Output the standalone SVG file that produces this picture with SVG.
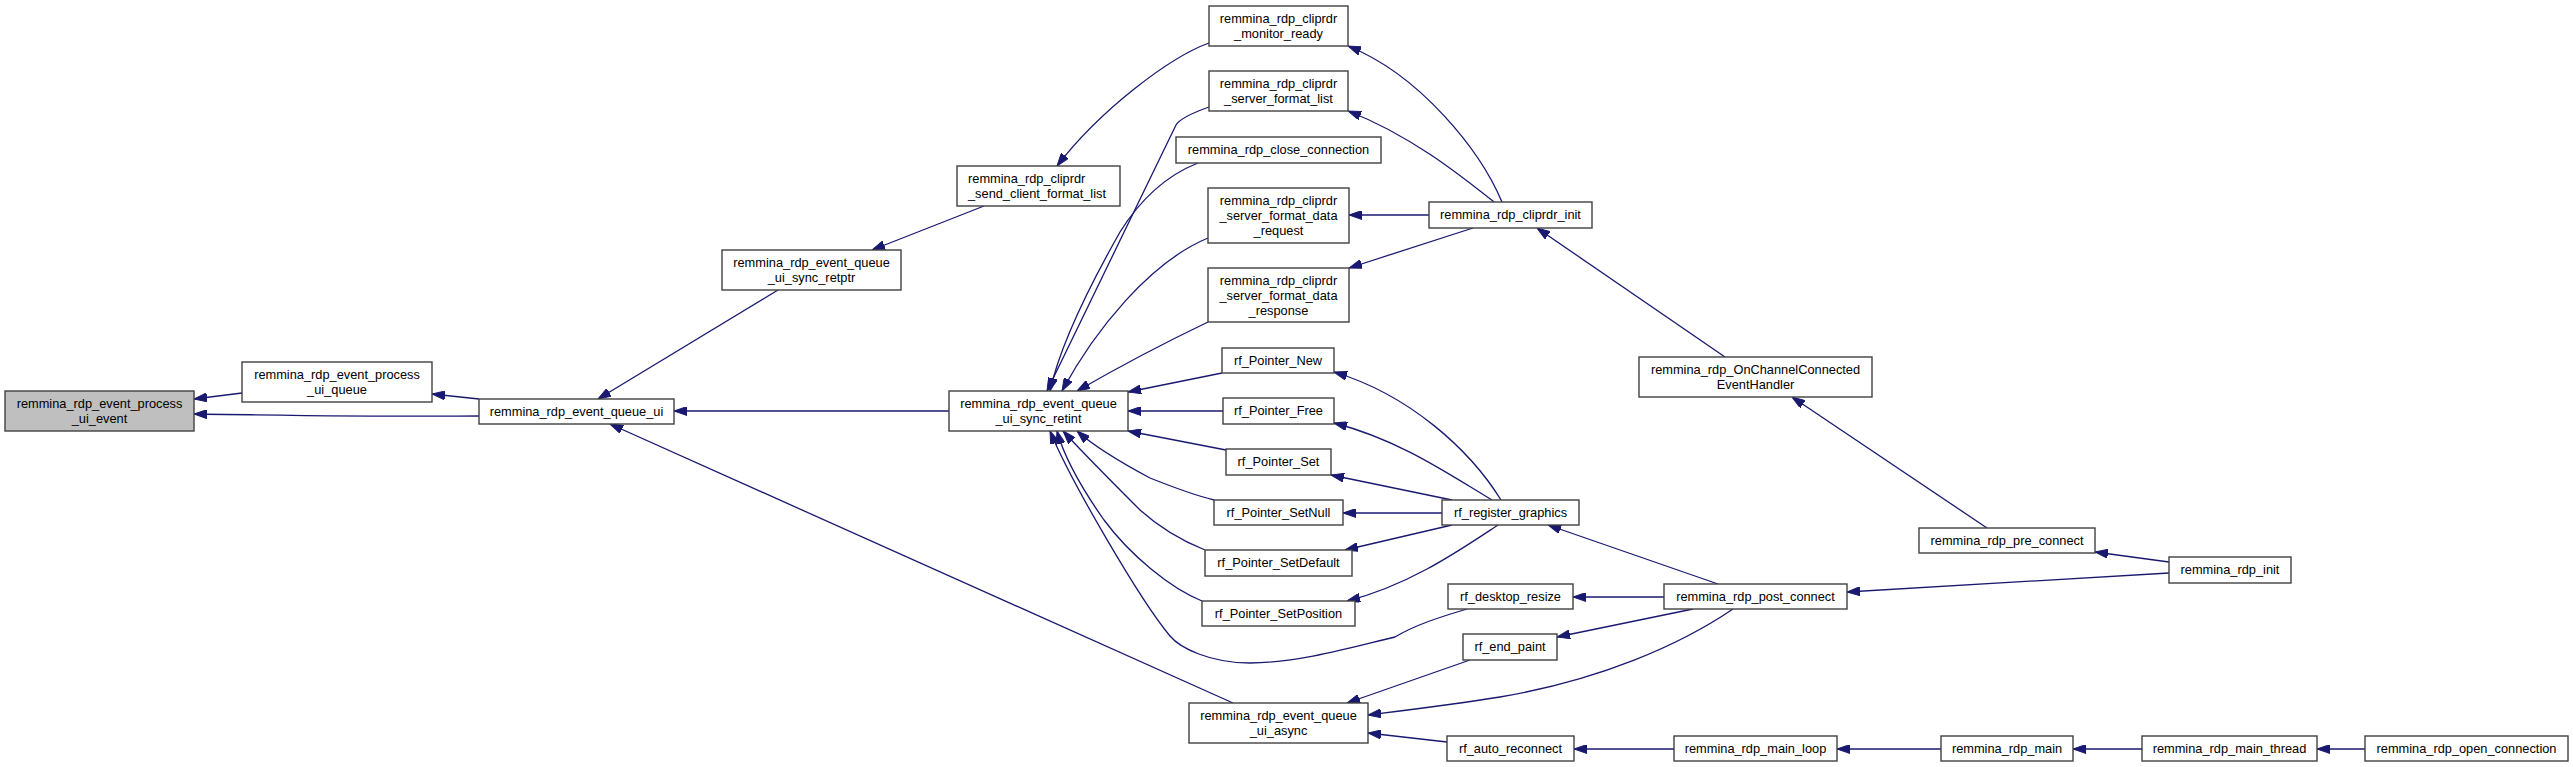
<svg xmlns="http://www.w3.org/2000/svg" width="2573" height="767" viewBox="0 0 2573 767">
<style>
.n rect{fill:#ffffff;stroke:#404040;stroke-width:1.4}
.n.root rect{fill:#bfbfbf}
.n text{font-family:"Liberation Sans",Arial,sans-serif;font-size:12.8px;fill:#000;text-anchor:middle}
.n text.l{text-anchor:start}
#edges path{fill:none;stroke:#191970;stroke-width:1.3;marker-end:url(#ah)}
</style>
<defs>
<marker id="ah" markerUnits="userSpaceOnUse" markerWidth="13" markerHeight="9" refX="13" refY="4.5" orient="auto">
<path d="M0,0 L13,4.5 L0,9 z" fill="#191970" stroke="#191970" stroke-width="1"/>
</marker>
</defs>
<rect x="0" y="0" width="2573" height="767" fill="#ffffff"/>
<g id="edges">
<path d="M242,393 L194,399"/>
<path d="M479,416 C380,417 280,415 194,414"/>
<path d="M479,399 L432,394"/>
<path d="M778,290 L598,399"/>
<path d="M949,411 L674,411"/>
<path d="M1233,703 L610,424"/>
<path d="M984,206 L872,250"/>
<path d="M1209,43 C1170,57 1100,110 1057,166"/>
<path d="M1209,107 C1195,112 1180,118 1176,125 L1047,391"/>
<path d="M1198,163 C1165,176 1140,200 1120,232 C1090,285 1060,345 1050,391"/>
<path d="M1208,238 C1150,262 1095,330 1062,391"/>
<path d="M1208,322 C1160,345 1110,372 1077,391"/>
<path d="M1222,373 L1128,392"/>
<path d="M1223,411 L1128,411"/>
<path d="M1226,450 L1128,431"/>
<path d="M1214,500 C1190,494 1170,486 1150,478 C1120,462 1095,447 1077,431"/>
<path d="M1205,550 C1180,540 1160,528 1140,510 C1110,480 1085,455 1063,431"/>
<path d="M1202,601 C1170,588 1130,555 1104,520 C1085,493 1065,460 1057,431"/>
<path d="M1467,609 C1440,617 1415,625 1395,637 C1360,645 1300,663 1250,663 C1210,663 1180,648 1170,636 C1140,600 1070,480 1050,431"/>
<path d="M1502,202 C1480,150 1420,75 1348,46"/>
<path d="M1494,202 C1460,175 1410,135 1348,111"/>
<path d="M1429,215 L1349,215"/>
<path d="M1473,228 L1349,268"/>
<path d="M1725,357 L1537,228"/>
<path d="M1987,528 L1792,397"/>
<path d="M2169,562 L2095,552"/>
<path d="M2169,573 L1847,592"/>
<path d="M1501,500 C1470,450 1410,395 1334,372"/>
<path d="M1492,500 C1450,475 1400,440 1334,423"/>
<path d="M1452,500 L1331,475"/>
<path d="M1442,513 L1343,513"/>
<path d="M1452,525 L1345,550"/>
<path d="M1498,525 C1460,550 1410,585 1347,601"/>
<path d="M1718,584 L1548,525"/>
<path d="M1664,597 L1573,597"/>
<path d="M1693,609 L1557,637"/>
<path d="M1733,609 C1680,645 1600,680 1500,697 C1450,705 1400,711 1368,715"/>
<path d="M1470,660 L1347,703"/>
<path d="M1447,742 L1368,733"/>
<path d="M1674,749 L1574,749"/>
<path d="M1941,749 L1837,749"/>
<path d="M2142,749 L2073,749"/>
<path d="M2365,749 L2317,749"/>
</g>
<g id="n1" class="n root"><rect x="5" y="391" width="189" height="40"/><text x="99.5" y="408">remmina_rdp_event_process</text><text x="99.5" y="423">_ui_event</text></g>
<g id="n2" class="n"><rect x="242" y="362" width="190" height="40"/><text x="337" y="379">remmina_rdp_event_process</text><text x="337" y="394">_ui_queue</text></g>
<g id="n3" class="n"><rect x="479" y="399" width="195" height="25"/><text x="576.5" y="416">remmina_rdp_event_queue_ui</text></g>
<g id="n4" class="n"><rect x="722" y="250" width="179" height="40"/><text x="811.5" y="267">remmina_rdp_event_queue</text><text x="811.5" y="282">_ui_sync_retptr</text></g>
<g id="n5" class="n"><rect x="957" y="166" width="163" height="40"/><text class="l" x="968" y="183">remmina_rdp_cliprdr</text><text class="l" x="968" y="198">_send_client_format_list</text></g>
<g id="n6" class="n"><rect x="949" y="391" width="179" height="40"/><text x="1038.5" y="408">remmina_rdp_event_queue</text><text x="1038.5" y="423">_ui_sync_retint</text></g>
<g id="n7" class="n"><rect x="1209" y="6" width="139" height="40"/><text x="1278.5" y="23">remmina_rdp_cliprdr</text><text x="1278.5" y="38">_monitor_ready</text></g>
<g id="n8" class="n"><rect x="1209" y="71" width="139" height="40"/><text x="1278.5" y="88">remmina_rdp_cliprdr</text><text x="1278.5" y="103">_server_format_list</text></g>
<g id="n9" class="n"><rect x="1176" y="137" width="205" height="26"/><text x="1278.5" y="154">remmina_rdp_close_connection</text></g>
<g id="n10" class="n"><rect x="1208" y="188" width="141" height="55"/><text x="1278.5" y="205">remmina_rdp_cliprdr</text><text x="1278.5" y="220">_server_format_data</text><text x="1278.5" y="235">_request</text></g>
<g id="n11" class="n"><rect x="1208" y="268" width="141" height="54"/><text x="1278.5" y="285">remmina_rdp_cliprdr</text><text x="1278.5" y="300">_server_format_data</text><text x="1278.5" y="315">_response</text></g>
<g id="n12" class="n"><rect x="1222" y="348" width="112" height="25"/><text x="1278" y="365">rf_Pointer_New</text></g>
<g id="n13" class="n"><rect x="1223" y="398" width="111" height="26"/><text x="1278.5" y="415">rf_Pointer_Free</text></g>
<g id="n14" class="n"><rect x="1226" y="449" width="105" height="26"/><text x="1278.5" y="466">rf_Pointer_Set</text></g>
<g id="n15" class="n"><rect x="1214" y="500" width="129" height="25"/><text x="1278.5" y="517">rf_Pointer_SetNull</text></g>
<g id="n16" class="n"><rect x="1205" y="550" width="147" height="26"/><text x="1278.5" y="567">rf_Pointer_SetDefault</text></g>
<g id="n17" class="n"><rect x="1202" y="601" width="153" height="25"/><text x="1278.5" y="618">rf_Pointer_SetPosition</text></g>
<g id="n18" class="n"><rect x="1429" y="202" width="163" height="26"/><text x="1510.5" y="219">remmina_rdp_cliprdr_init</text></g>
<g id="n19" class="n"><rect x="1442" y="500" width="137" height="25"/><text x="1510.5" y="517">rf_register_graphics</text></g>
<g id="n20" class="n"><rect x="1448" y="584" width="125" height="25"/><text x="1510.5" y="601">rf_desktop_resize</text></g>
<g id="n21" class="n"><rect x="1463" y="634" width="94" height="26"/><text x="1510" y="651">rf_end_paint</text></g>
<g id="n22" class="n"><rect x="1189" y="703" width="179" height="40"/><text x="1278.5" y="720">remmina_rdp_event_queue</text><text x="1278.5" y="735">_ui_async</text></g>
<g id="n23" class="n"><rect x="1447" y="736" width="127" height="25"/><text x="1510.5" y="753">rf_auto_reconnect</text></g>
<g id="n24" class="n"><rect x="1639" y="357" width="233" height="40"/><text x="1755.5" y="374">remmina_rdp_OnChannelConnected</text><text x="1755.5" y="389">EventHandler</text></g>
<g id="n25" class="n"><rect x="1664" y="584" width="183" height="25"/><text x="1755.5" y="601">remmina_rdp_post_connect</text></g>
<g id="n26" class="n"><rect x="1674" y="736" width="163" height="25"/><text x="1755.5" y="753">remmina_rdp_main_loop</text></g>
<g id="n27" class="n"><rect x="1919" y="528" width="176" height="25"/><text x="2007" y="545">remmina_rdp_pre_connect</text></g>
<g id="n28" class="n"><rect x="1941" y="736" width="132" height="25"/><text x="2007" y="753">remmina_rdp_main</text></g>
<g id="n29" class="n"><rect x="2169" y="557" width="122" height="26"/><text x="2230" y="574">remmina_rdp_init</text></g>
<g id="n30" class="n"><rect x="2142" y="736" width="175" height="25"/><text x="2229.5" y="753">remmina_rdp_main_thread</text></g>
<g id="n31" class="n"><rect x="2365" y="736" width="203" height="25"/><text x="2466.5" y="753">remmina_rdp_open_connection</text></g>
</svg>
